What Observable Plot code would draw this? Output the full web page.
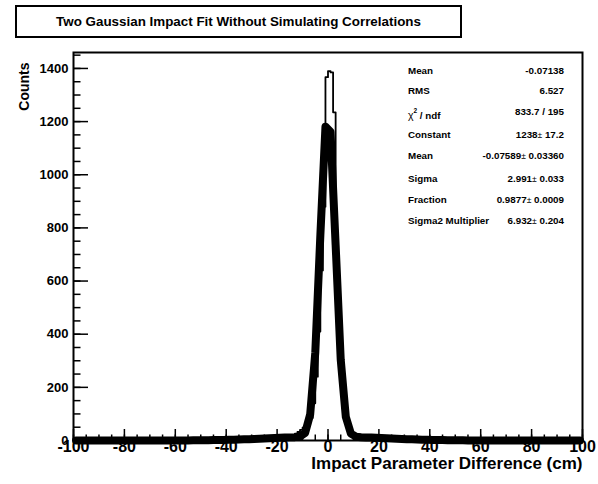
<!DOCTYPE html>
<html>
<head>
<meta charset="utf-8">
<script src="https://cdn.jsdelivr.net/npm/d3@7"></script>
<script src="https://cdn.jsdelivr.net/npm/@observablehq/plot@0.6"></script>
<style>
  body { margin: 0; background: #fff; }
  #wrap { position: relative; width: 598px; height: 484px; font-family: "Liberation Sans", Arial, sans-serif; font-weight: bold; color: #000; }
  #wrap svg { position: absolute; left: 0; top: 0; }
  #title { position: absolute; left: 15px; top: 5px; width: 443px; height: 29px; border: 2px solid #000; background: #fff;
           display: flex; align-items: center; justify-content: center; font-size: 13.4px; }
  .srow { position: absolute; left: 408px; width: 156px; font-size: 9.8px; display: flex; justify-content: space-between; line-height: 11px; }
  .pm { font-weight: normal; font-size: 8.5px; }
  .chi { font-weight: normal; font-size: 10.5px; }
  .chi sup { font-size: 6.5px; font-weight: bold; position: relative; top: -1px; }
</style>
</head>
<body>
<div id="wrap">
  <div id="chart"></div>
  <div id="title">Two Gaussian Impact Fit Without Simulating Correlations</div>
  <div id="stats"></div>
</div>
<script>
// Histogram: 200 bins of 1 cm from -100 to 100 (counts per bin)
const binLow = -100;
const binWidth = 1;
const binCounts = [
  // -100 .. -61
  1,2,1,0,1,2,1,1,2,1, 1,2,2,1,1,2,1,2,1,1, 2,1,2,2,1,2,1,2,2,1, 2,2,1,2,3,2,2,1,3,2,
  // -60 .. -41
  2,3,2,3,2,2,3,3,2,3, 3,2,4,3,3,4,3,4,4,3,
  // -40 .. -21
  4,5,4,5,5,4,6,5,6,6, 7,6,7,8,7,8,9,8,10,9,
  // -20 .. -11
  10,11,12,12,14,16,20,26,32,40,
  // -10 .. -1
  48,55,60,85,140,240,410,640,880,1367,
  // 0 .. 9
  1390,1385,1235,640,400,220,120,65,40,28,
  // 10 .. 19
  20,16,14,13,12,12,11,11,10,9,
  // 20 .. 39
  9,8,8,7,7,6,6,6,5,5, 5,4,4,4,4,3,3,3,3,3,
  // 40 .. 59
  3,2,3,2,2,2,3,2,2,2, 2,1,2,2,1,2,1,2,1,2,
  // 60 .. 99
  1,2,1,1,2,1,1,1,2,1, 1,1,2,1,1,0,1,1,1,2, 1,1,0,1,1,1,2,1,1,1, 0,1,1,1,1,0,1,1,1,1
];

// Fitted double-Gaussian, sampled at x = -99, -97, ..., 99
const fitX = d3.range(-99, 100, 2);
const fitY = [
  0,0,0,0,0,0,0,0,0,0, 0.01,0.01,0.02,0.03,0.04,0.06,0.08,
  0.11,0.15,0.20,0.27,0.35,0.46,0.59,0.75,0.94,1.18,1.46,1.79,2.17,2.61,3.12,3.69,4.32,
  5.01,5.76,6.55,7.39,8.26,9.15,10.04,10.91,11.75,12.65,14.80,28.15,98.27,330.2,773.3,1181.0,
  1161.4,735.7,304.5,88.85,26.09,14.49,12.57,11.69,10.85,9.97,9.08,8.20,7.33,6.49,5.70,
  4.95,4.27,3.64,3.08,2.58,2.14,1.76,1.43,1.16,0.92,0.73,0.58,0.45,0.34,0.26,0.20,0.15,0.11,
  0.08,0.06,0.04,0.03,0.02,0.01,0.01, 0,0,0,0,0,0,0,0,0,0
];

// Axis ticks and labels
const xMajor = [-100, -80, -60, -40, -20, 0, 20, 40, 60, 80, 100];
const xMinor = d3.range(-100, 101, 5);
const yMajor = [0, 200, 400, 600, 800, 1000, 1200, 1400];
const yMinor = d3.range(0, 1451, 50);

// Statistics box entries
const statLabels = ["Mean", "RMS", "chi2", "Constant", "Mean", "Sigma", "Fraction", "Sigma2 Multiplier"];
const statValues = ["-0.07138", "6.527", "833.7 / 195", "1238|17.2", "-0.07589|0.03360", "2.991|0.033", "0.9877|0.0009", "6.932|0.204"];
const statTops = [65, 85, 106, 129, 150, 173, 194, 215];

const hist = binCounts.map((c, i) => ({x: binLow + i * binWidth, y: c}));
hist.push({x: binLow + binCounts.length * binWidth, y: binCounts[binCounts.length - 1]});
const fit = fitX.map((x, i) => ({x, y: fitY[i]}));

const W = 598, H = 484, mL = 73, mR = 16, mT = 52, mB = 44;
const innerW = W - mL - mR, innerH = H - mT - mB;
const font = "Liberation Sans, Arial, sans-serif";

const chart = Plot.plot({
  width: W, height: H,
  marginLeft: mL, marginRight: mR, marginTop: mT, marginBottom: mB,
  x: {domain: [-100, 100], axis: null},
  y: {domain: [0, 1460], axis: null},
  style: {fontFamily: font, background: "transparent", overflow: "visible"},
  marks: [
    Plot.line(hist, {x: "x", y: "y", curve: "step-after", stroke: "#000", strokeWidth: 1.8}),
    Plot.line(fit, {x: "x", y: "y", stroke: "#000", strokeWidth: 8, strokeLinejoin: "round"}),
    Plot.frame({stroke: "#000", strokeWidth: 2}),
    // bottom axis ticks point into the frame
    Plot.ruleX(xMinor, {x: d => d, insetTop: innerH - 5.5, stroke: "#000", strokeWidth: 1.5}),
    Plot.ruleX(xMajor, {x: d => d, insetTop: innerH - 11, stroke: "#000", strokeWidth: 1.5}),
    // left axis ticks
    Plot.ruleY(yMinor, {y: d => d, insetRight: innerW - 7.5, stroke: "#000", strokeWidth: 1.5}),
    Plot.ruleY(yMajor, {y: d => d, insetRight: innerW - 15, stroke: "#000", strokeWidth: 1.5}),
    Plot.text(xMajor, {x: d => d, frameAnchor: "bottom", dy: 11, text: d => String(d), fontSize: 16, fontWeight: "bold", fill: "#000"}),
    Plot.text(yMajor, {y: d => d, frameAnchor: "left", dx: -5, textAnchor: "end", text: d => String(d), fontSize: 13, fontWeight: "bold", fill: "#000"}),
    Plot.text(["Impact Parameter Difference (cm)"], {frameAnchor: "bottom-right", dy: 28, textAnchor: "end", fontSize: 17, fontWeight: "bold", fill: "#000"}),
    Plot.text(["Counts"], {frameAnchor: "top-left", dx: -54, dy: 10, rotate: -90, textAnchor: "end", fontSize: 14, fontWeight: "bold", fill: "#000"})
  ]
});
document.getElementById("chart").appendChild(chart);

// Statistics box
const stats = document.getElementById("stats");
statLabels.forEach((lab, i) => {
  const row = document.createElement("div");
  row.className = "srow";
  row.style.top = statTops[i] + "px";
  const l = document.createElement("span");
  if (lab === "chi2") {
    l.innerHTML = '<span class="chi">\u03c7<sup>2</sup></span> / ndf';
  } else {
    l.textContent = lab;
  }
  const v = document.createElement("span");
  const parts = statValues[i].split("|");
  if (parts.length === 2) {
    v.innerHTML = parts[0] + '<span class="pm">\u00b1</span> ' + parts[1];
  } else {
    v.textContent = parts[0];
  }
  row.appendChild(l);
  row.appendChild(v);
  stats.appendChild(row);
});
</script>
</body>
</html>
